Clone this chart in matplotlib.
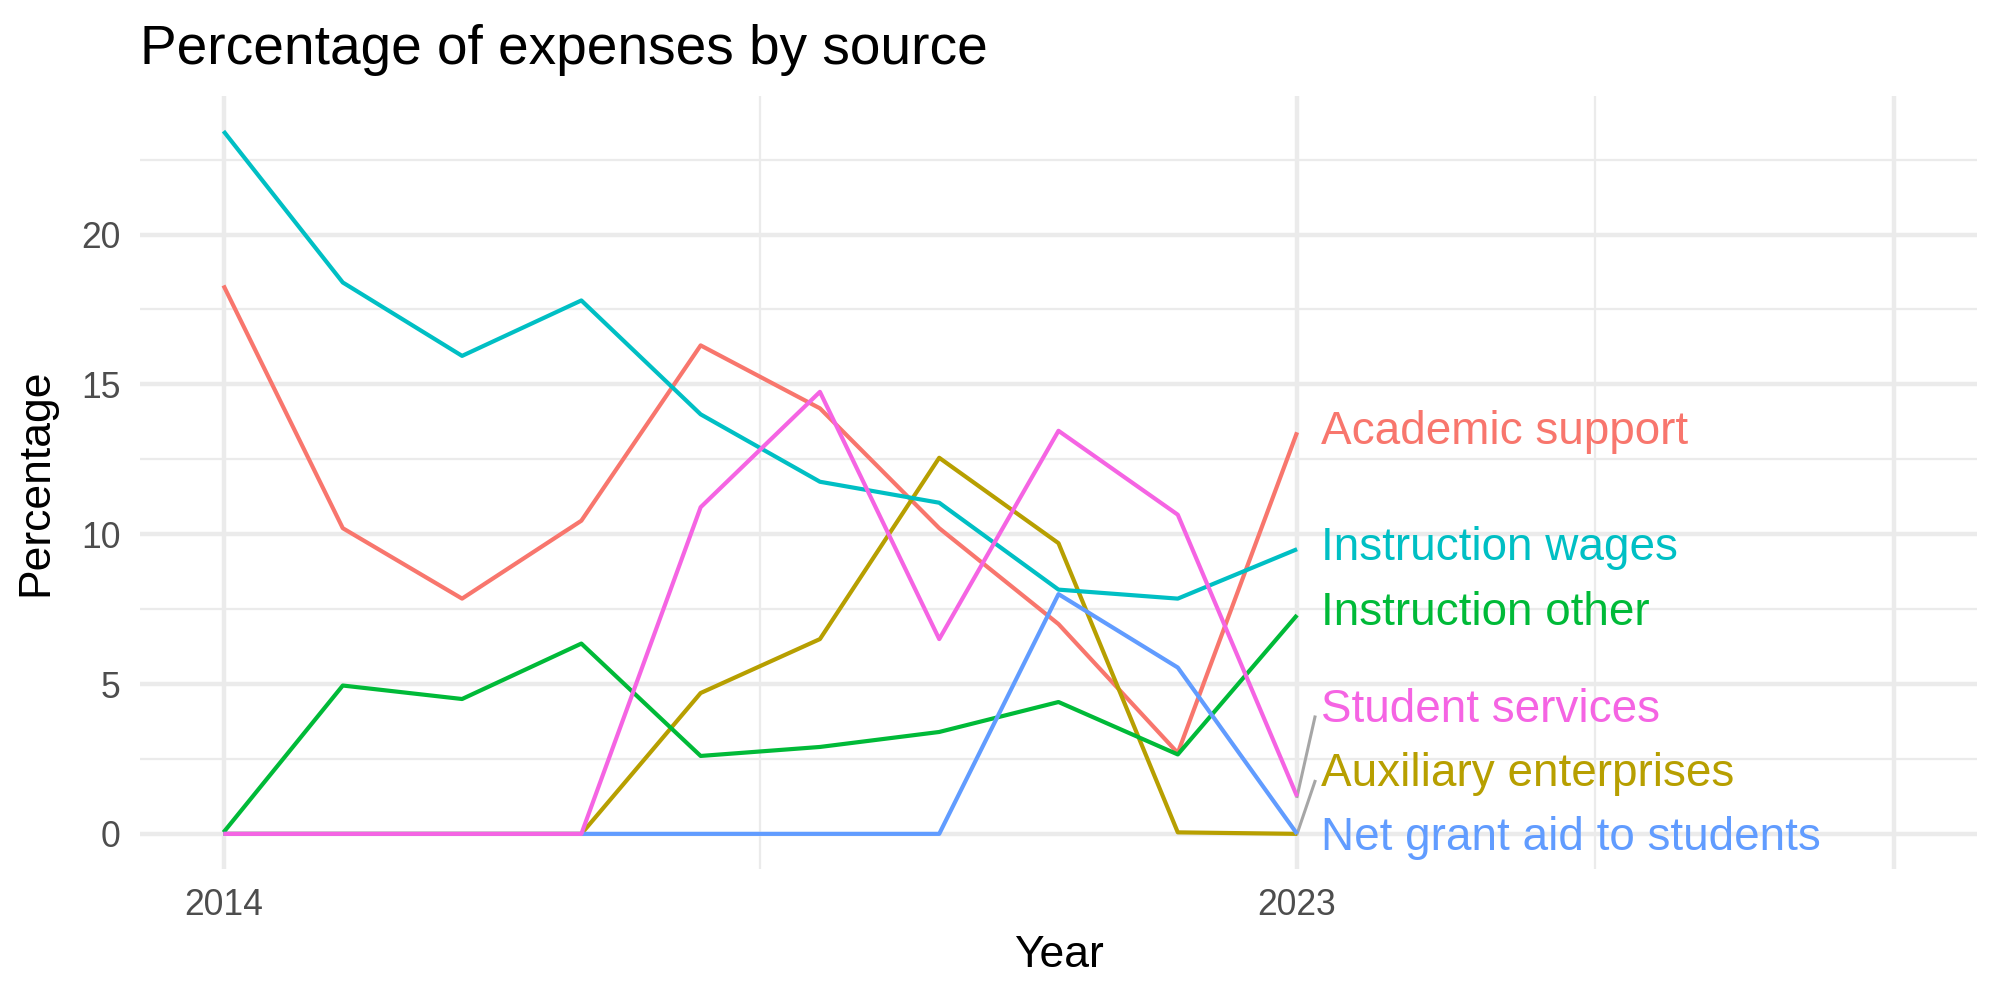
import matplotlib
matplotlib.use("Agg")
import matplotlib.pyplot as plt
import numpy as np

# data
years = [2014, 2015, 2016, 2017, 2018, 2019, 2020, 2021, 2022, 2023]

academic_support = [18.3, 10.2, 7.85, 10.45, 16.3, 14.2, 10.2, 7.0, 2.7, 13.4]
auxiliary_enterprises = [0, 0, 0, 0, 4.7, 6.5, 12.55, 9.7, 0.05, 0.0]
instruction_other = [0.05, 4.95, 4.5, 6.35, 2.6, 2.9, 3.4, 4.4, 2.65, 7.3]
instruction_wages = [23.45, 18.4, 15.95, 17.8, 14.0, 11.75, 11.05, 8.15, 7.85, 9.5]
net_grant_aid = [0, 0, 0, 0, 0, 0, 0, 8.0, 5.55, 0.0]
student_services = [0, 0, 0, 0, 10.9, 14.75, 6.5, 13.45, 10.65, 1.25]

names = ["Academic support", "Auxiliary enterprises", "Instruction other",
         "Instruction wages", "Net grant aid to students", "Student services"]
series = [academic_support, auxiliary_enterprises, instruction_other,
          instruction_wages, net_grant_aid, student_services]
colors = ["#F8766D", "#B79F00", "#00BA38", "#00BFC4", "#619CFF", "#F564E3"]

# label placement (repelled positions, as in the reference)
label_y = [13.4, 2.0, 7.37, 9.55, -0.13, 4.15]

plt.rcParams['font.family'] = ['Liberation Sans', 'DejaVu Sans']

fig = plt.figure(figsize=(10, 5), dpi=200)
ax = fig.add_axes([0.07, 0.131, 0.9185, 0.773])

for name, vals, col in zip(names, series, colors):
    ax.plot(years, vals, color=col, lw=1.5, solid_capstyle='butt', zorder=3)

last = years[-1]
for name, vals, col, ly in zip(names, series, colors, label_y):
    end = vals[-1]
    if abs(ly - end) > 1:
        ax.plot([last, last + 0.15], [end, ly - 0.25], color="#A6A6A6",
                lw=1.1, zorder=2)
    ax.text(last + 0.2, ly, name, color=col, fontsize=16.5, ha='left',
            va='center', zorder=4)

x0, x1 = 2014, 2028
ax.set_xlim(x0 - 0.05 * (x1 - x0), x1 + 0.05 * (x1 - x0))
ymax = max(max(s) for s in series)
ax.set_ylim(-0.05 * ymax, ymax * 1.05)

ax.set_xticks([2014, 2023, 2028])
ax.set_xticklabels(["2014", "2023", ""])
ax.set_xticks([2018.5, 2025.5], minor=True)
ax.set_yticks([0, 5, 10, 15, 20])
ax.set_yticks([2.5, 7.5, 12.5, 17.5, 22.5], minor=True)

ax.grid(which='major', color="#EBEBEB", lw=1.6)
ax.grid(which='minor', color="#EBEBEB", lw=0.8)
ax.set_axisbelow(True)
for sp in ax.spines.values():
    sp.set_visible(False)
ax.tick_params(which='both', length=0, labelsize=12.8, labelcolor="#4D4D4D")
ax.tick_params(axis='y', pad=7)
ax.tick_params(axis='x', pad=7)

ax.set_xlabel("Year", fontsize=16, labelpad=4)
ax.set_ylabel("Percentage", fontsize=16, labelpad=9)
fig.text(0.07, 0.936, "Percentage of expenses by source", fontsize=19.8,
         ha='left', va='baseline')

fig.savefig("out.png", dpi=200, facecolor='white')
